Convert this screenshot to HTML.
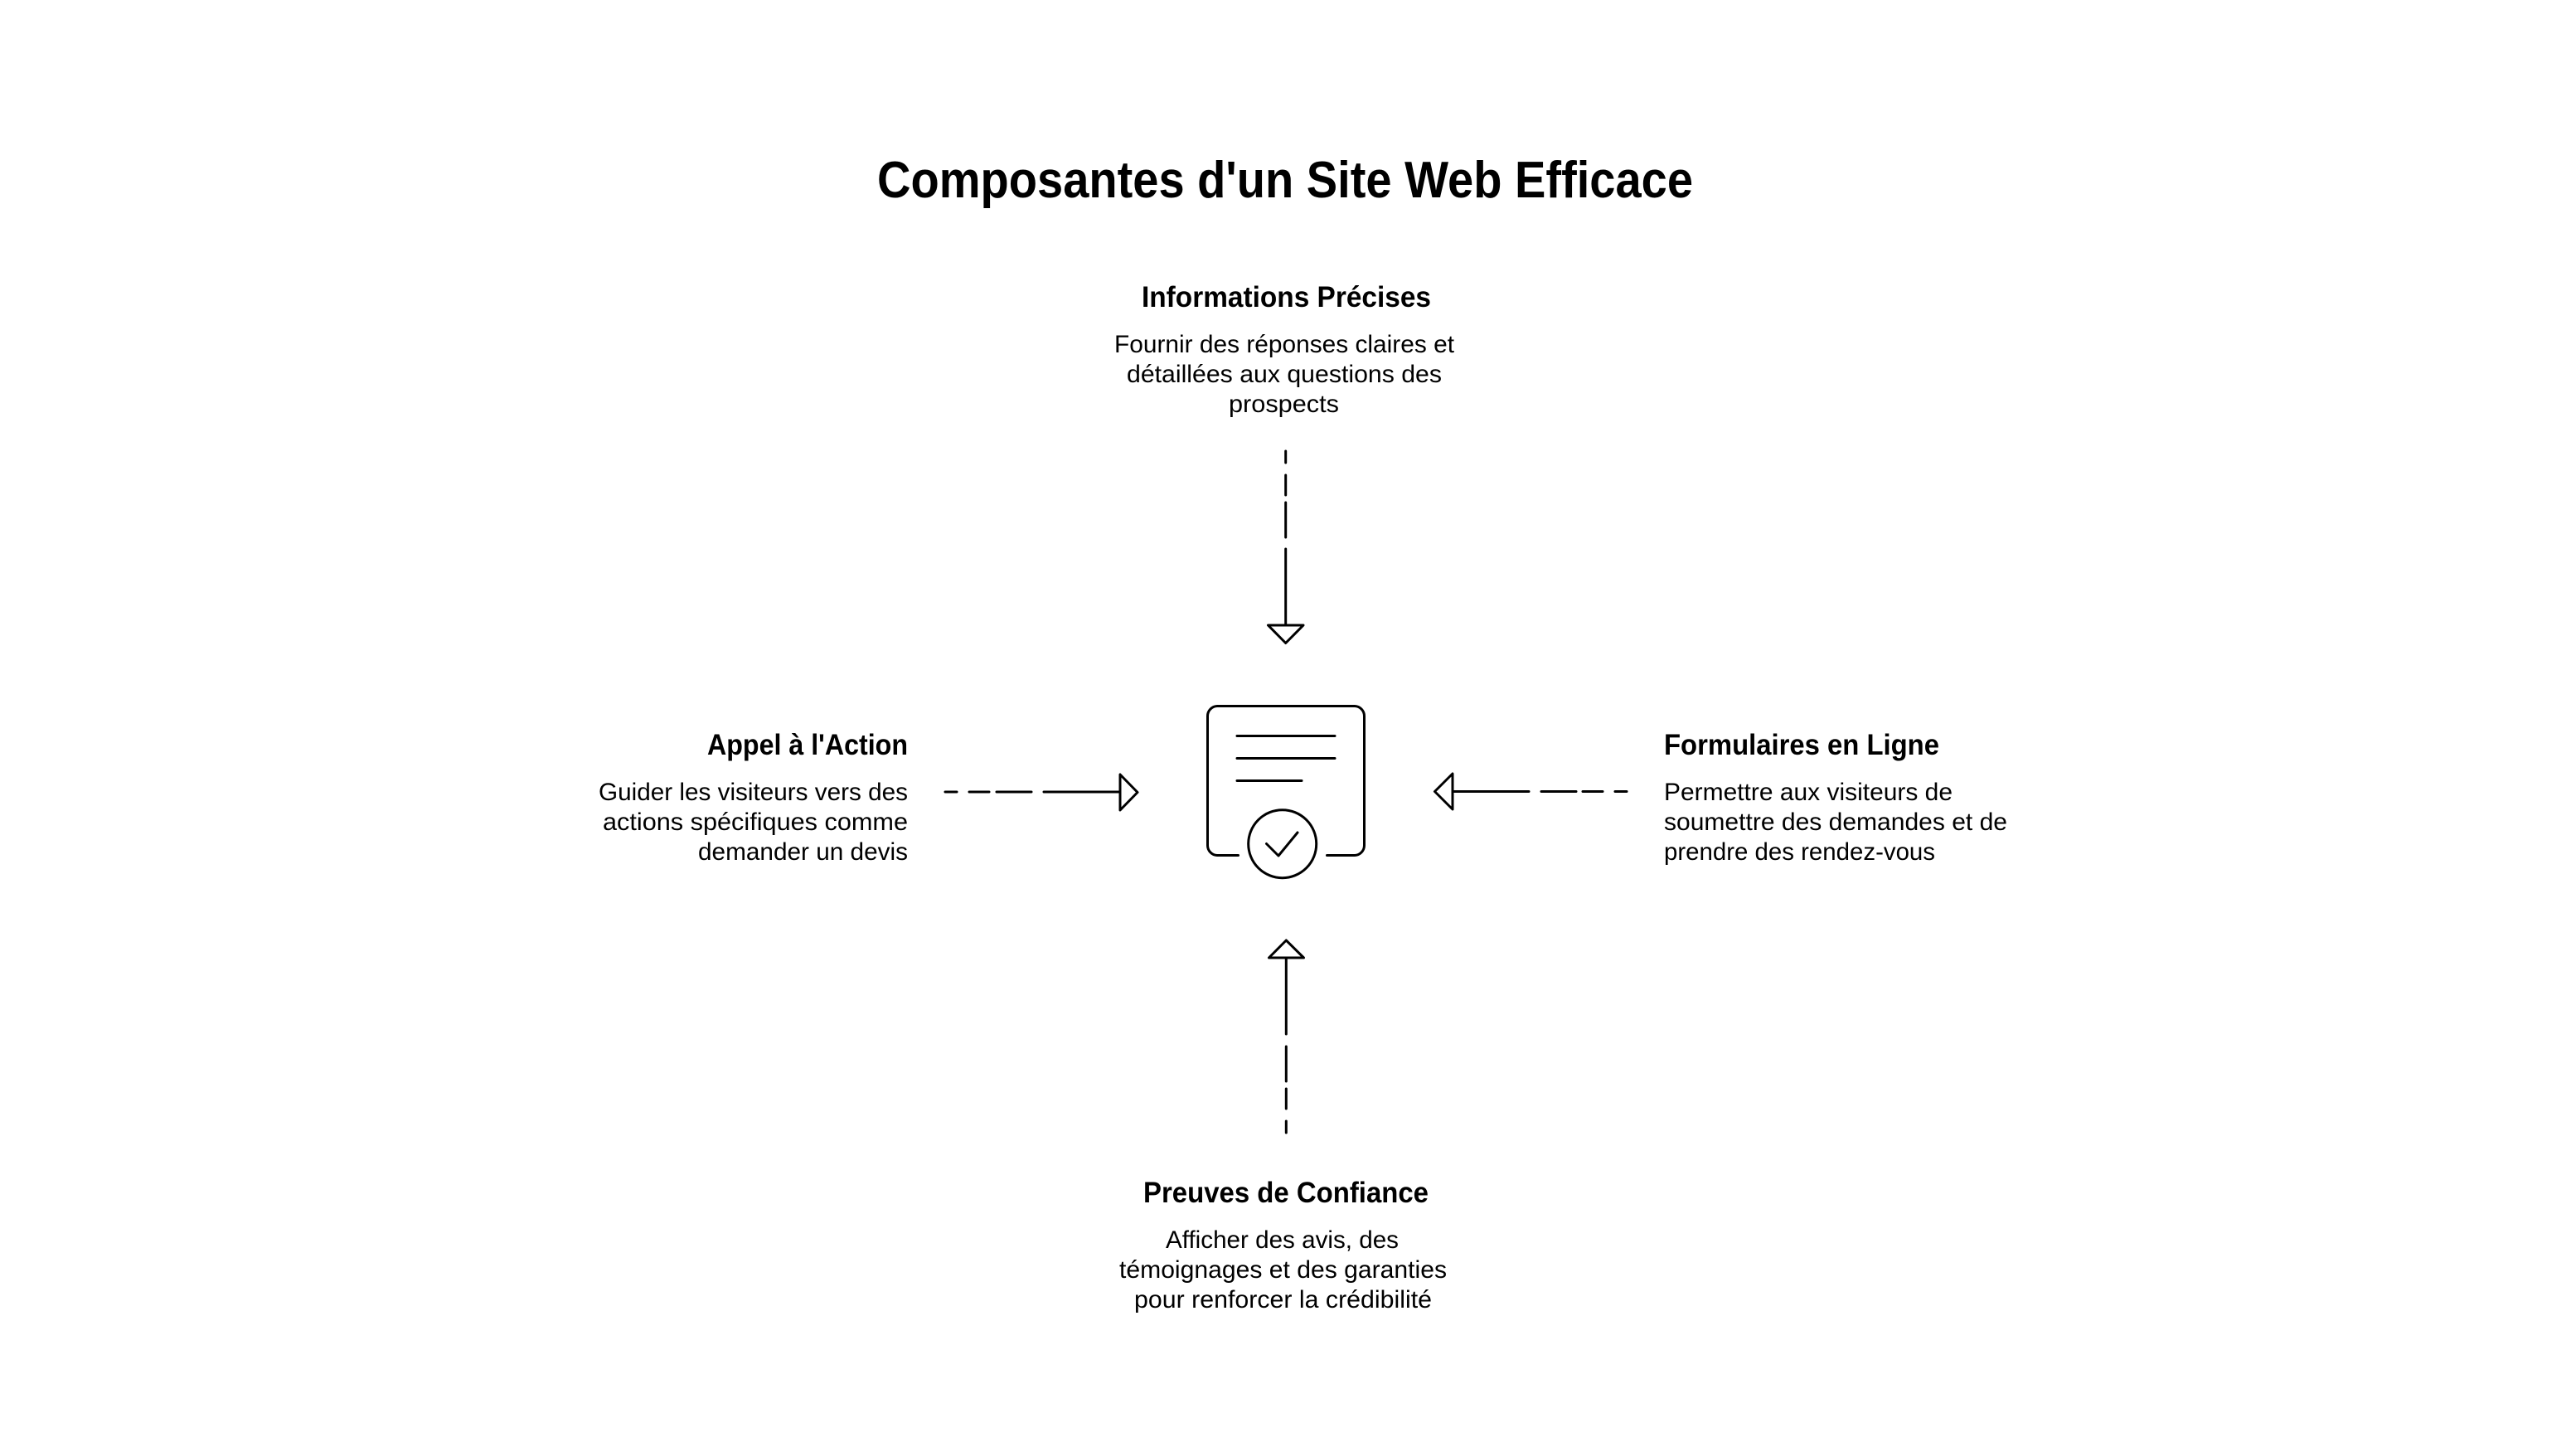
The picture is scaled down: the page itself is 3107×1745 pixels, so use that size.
<!DOCTYPE html>
<html lang="fr">
<head>
<meta charset="utf-8">
<title>Composantes d'un Site Web Efficace</title>
<style>
html,body{margin:0;padding:0;background:#fff;width:3107px;height:1745px;overflow:hidden}
svg{display:block}
text{font-family:"Liberation Sans",Arial,sans-serif;fill:#000}
.t{font-size:62px;font-weight:700}
.h{font-size:35px;font-weight:700}
.b{font-size:29.5px;font-weight:400}
.l{fill:none;stroke:#000;stroke-width:3;stroke-linecap:round;stroke-linejoin:round}
</style>
</head>
<body>
<svg xmlns="http://www.w3.org/2000/svg" width="3107" height="1745" viewBox="0 0 3107 1745">
<rect width="3107" height="1745" fill="#fff"/>

<text class="t" x="1058" y="238" textLength="984" lengthAdjust="spacingAndGlyphs">Composantes d'un Site Web Efficace</text>

<text class="h" x="1377" y="370" textLength="349" lengthAdjust="spacingAndGlyphs">Informations Précises</text>
<text class="b" x="1344" y="425" textLength="410" lengthAdjust="spacingAndGlyphs">Fournir des réponses claires et</text>
<text class="b" x="1359" y="461" textLength="380" lengthAdjust="spacingAndGlyphs">détaillées aux questions des</text>
<text class="b" x="1482" y="497" textLength="133" lengthAdjust="spacingAndGlyphs">prospects</text>

<text class="h" x="853" y="910" textLength="242" lengthAdjust="spacingAndGlyphs">Appel à l'Action</text>
<text class="b" x="722" y="965" textLength="373" lengthAdjust="spacingAndGlyphs">Guider les visiteurs vers des</text>
<text class="b" x="727" y="1001" textLength="368" lengthAdjust="spacingAndGlyphs">actions spécifiques comme</text>
<text class="b" x="842" y="1037" textLength="253" lengthAdjust="spacingAndGlyphs">demander un devis</text>

<text class="h" x="2007" y="910" textLength="332" lengthAdjust="spacingAndGlyphs">Formulaires en Ligne</text>
<text class="b" x="2007" y="965" textLength="348" lengthAdjust="spacingAndGlyphs">Permettre aux visiteurs de</text>
<text class="b" x="2007" y="1001" textLength="414" lengthAdjust="spacingAndGlyphs">soumettre des demandes et de</text>
<text class="b" x="2007" y="1037" textLength="327" lengthAdjust="spacingAndGlyphs">prendre des rendez-vous</text>

<text class="h" x="1379" y="1450" textLength="344" lengthAdjust="spacingAndGlyphs">Preuves de Confiance</text>
<text class="b" x="1406" y="1505" textLength="281" lengthAdjust="spacingAndGlyphs">Afficher des avis, des</text>
<text class="b" x="1350" y="1541" textLength="395" lengthAdjust="spacingAndGlyphs">témoignages et des garanties</text>
<text class="b" x="1368" y="1577" textLength="359" lengthAdjust="spacingAndGlyphs">pour renforcer la crédibilité</text>

<!-- top arrow -->
<path class="l" d="M1550.7 544V558M1550.7 573V597M1550.7 606V648M1550.7 662V754"/>
<path class="l" d="M1529.5 754H1572L1550.7 775.5Z"/>

<!-- left arrow -->
<path class="l" d="M1140 955H1154M1169 955H1193M1202 955H1244M1259 955H1351"/>
<path class="l" d="M1351 934V977L1372 955.5Z"/>

<!-- right arrow -->
<path class="l" d="M1962 954.5H1948M1933 954.5H1909M1901 954.5H1859M1844 954.5H1752"/>
<path class="l" d="M1752 933V976L1730.5 954.5Z"/>

<!-- bottom arrow -->
<path class="l" d="M1551.3 1155V1247M1551.3 1262V1304M1551.3 1313V1337M1551.3 1352V1366"/>
<path class="l" d="M1530.5 1155H1572.5L1551.3 1134Z"/>

<!-- central icon -->
<path class="l" d="M1493.5 1031.5H1468A12 12 0 0 1 1456.5 1019.5V863.5A12 12 0 0 1 1468 851.5H1634A12 12 0 0 1 1645.5 863.5V1019.5A12 12 0 0 1 1634 1031.5H1600.5"/>
<path class="l" d="M1492 887.5H1610M1492 914.5H1610M1492 941.5H1570"/>
<circle class="l" cx="1546.7" cy="1017.7" r="41"/>
<path class="l" d="M1527.5 1017.5L1542 1032L1565 1004"/>
</svg>
</body>
</html>
